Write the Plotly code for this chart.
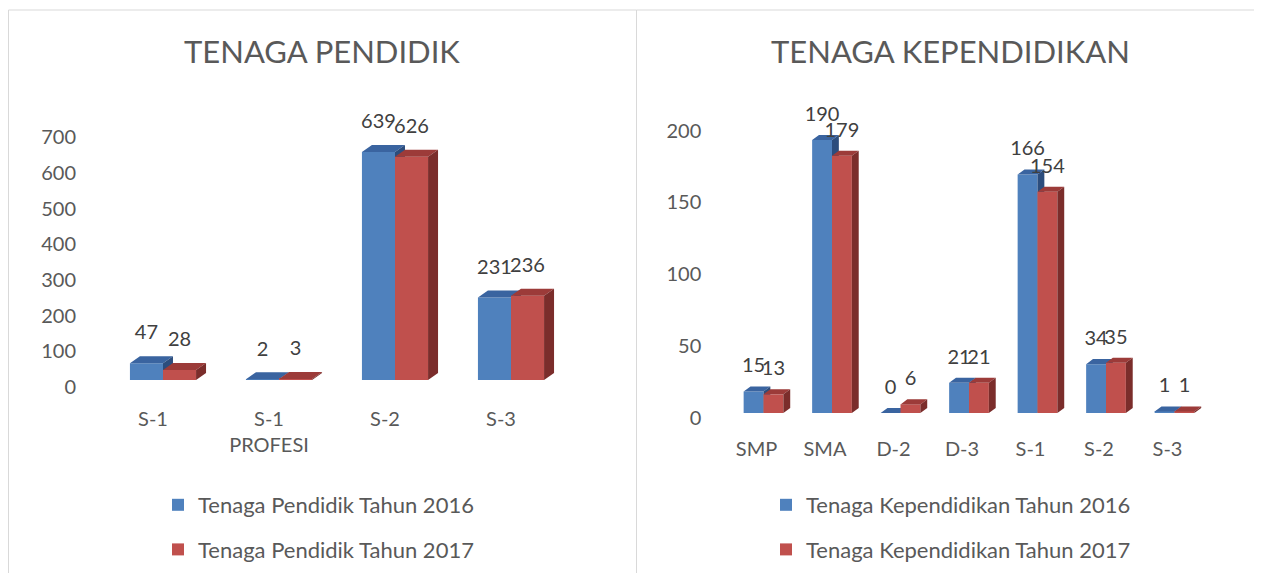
import plotly.graph_objects as go

# ---------------- data ----------------
left_title = "TENAGA PENDIDIK"
left_categories = ["S-1", "S-1<br>PROFESI", "S-2", "S-3"]
left_2016 = [47, 2, 639, 231]
left_2017 = [28, 3, 626, 236]
left_names = ["Tenaga Pendidik Tahun 2016", "Tenaga Pendidik Tahun 2017"]

right_title = "TENAGA KEPENDIDIKAN"
right_categories = ["SMP", "SMA", "D-2", "D-3", "S-1", "S-2", "S-3"]
right_2016 = [15, 190, 0, 21, 166, 34, 1]
right_2017 = [13, 179, 6, 21, 154, 35, 1]
right_names = ["Tenaga Kependidikan Tahun 2016", "Tenaga Kependidikan Tahun 2017"]

# ---------------- style ----------------
PAGE_MARGIN = 8          # default body margin of the html page
W, H = 1262 - 2 * PAGE_MARGIN, 581 - 2 * PAGE_MARGIN
FONT = "Lato"
BLUE = dict(front="#4F81BD", top="#3A64A0", side="#2C4D7D")
RED = dict(front="#C0504D", top="#9C3B39", side="#7B2D2B")
TXT = "#595959"
LBL = "#404040"


def px_x(p):
    return (p - PAGE_MARGIN) / W


def px_y(p):
    return 1 - (p - PAGE_MARGIN) / H


def faces(idx, vals, offset, bw, dx, dy):
    tx, ty, sx, sy = [], [], [], []
    for i, v in zip(idx, vals):
        x0 = i + offset
        x1 = x0 + bw
        tx += [x0, x1, x1 + dx, x0 + dx, x0, None]
        ty += [v, v, v + dy, v + dy, v, None]
        sx += [x1, x1 + dx, x1 + dx, x1, x1, None]
        sy += [0, dy, v + dy, v, 0, None]
    return tx, ty, sx, sy


fig = go.Figure()


def add_panel(cats, v16, v17, names, base, over, bw, dx, dy, lift, legend):
    idx = list(range(len(cats)))
    bx, by = base
    ox, oy = over
    for vals, col, off, name, (xa, ya), grp in [
        (v16, BLUE, -bw, names[0], (bx, by), "a"),
        (v17, RED, 0.0, names[1], (ox, oy), "b"),
    ]:
        fig.add_trace(go.Bar(
            x=idx, y=vals, offset=off, width=bw, name=name,
            marker=dict(color=col["front"], line=dict(width=0)),
            xaxis=xa, yaxis=ya, legend=legend, legendgroup=legend + grp,
            hoverinfo="skip",
        ))
        tx, ty, sx, sy = faces(idx, vals, off, bw, dx, dy)
        fig.add_trace(go.Scatter(
            x=tx, y=ty, fill="toself", fillcolor=col["top"], mode="lines",
            line=dict(width=0, color=col["top"]), showlegend=False,
            xaxis=xa, yaxis=ya, hoverinfo="skip",
        ))
        fig.add_trace(go.Scatter(
            x=sx, y=sy, fill="toself", fillcolor=col["side"], mode="lines",
            line=dict(width=0, color=col["side"]), showlegend=False,
            xaxis=xa, yaxis=ya, hoverinfo="skip",
        ))
    # data labels (on top layer)
    for vals, off in [(v16, -bw / 2), (v17, bw / 2)]:
        fig.add_trace(go.Scatter(
            x=[i + off for i in idx], y=[v + dy + lift for v in vals],
            text=[str(v) for v in vals], mode="text", textposition="top center",
            textfont=dict(family=FONT, size=20, color=LBL), showlegend=False,
            xaxis=ox, yaxis=oy, hoverinfo="skip", cliponaxis=False,
        ))


# 3-D look: bar width, depth in x (category units) and y (data units), label lift
L_BW, L_DX, L_DY, L_LIFT = 0.285, 0.086, 19.6, 33
R_BW, R_DX, R_DY, R_LIFT = 0.29, 0.10, 3.5, 6.3

add_panel(left_categories, left_2016, left_2017, left_names,
          ("x", "y"), ("x3", "y3"), L_BW, L_DX, L_DY, L_LIFT, "legend")
add_panel(right_categories, right_2016, right_2017, right_names,
          ("x2", "y2"), ("x4", "y4"), R_BW, R_DX, R_DY, R_LIFT, "legend2")

tickfont = dict(family=FONT, size=20, color=TXT)
common = dict(showgrid=False, zeroline=False, showline=False, fixedrange=True,
              automargin=False,
              ticks="outside", tickcolor="rgba(0,0,0,0)", tickfont=tickfont)

L_XDOM = [px_x(105), px_x(569)]
L_YDOM = [px_y(380), px_y(116)]
R_XDOM = [px_x(729.25), px_x(1208.75)]
R_YDOM = [px_y(413), px_y(104)]
L_XR = [-0.5, len(left_categories) - 0.5]
L_YR = [0, 740]
R_XR = [-0.5, len(right_categories) - 0.5]
R_YR = [0, 215]

legend_font = dict(family=FONT, size=22, color=TXT)

fig.update_layout(
    width=W, height=H, autosize=False,
    margin=dict(l=0, r=0, t=0, b=0, pad=0, autoexpand=False),
    paper_bgcolor="white", plot_bgcolor="rgba(0,0,0,0)",
    barmode="overlay", showlegend=True,
    xaxis=dict(domain=L_XDOM, range=L_XR, anchor="y",
               tickvals=list(range(len(left_categories))), ticktext=left_categories,
               ticklen=21, ticklabelshift=-10, **common),
    yaxis=dict(domain=L_YDOM, range=L_YR, anchor="x", tick0=0, dtick=100,
               ticklen=24, ticklabelshift=7, **common),
    xaxis3=dict(overlaying="x", range=L_XR, anchor="y3", visible=False, fixedrange=True),
    yaxis3=dict(overlaying="y", range=L_YR, anchor="x3", visible=False, fixedrange=True),
    xaxis2=dict(domain=R_XDOM, range=R_XR, anchor="y2",
                tickvals=list(range(len(right_categories))), ticktext=right_categories,
                ticklen=18, ticklabelshift=-7, **common),
    yaxis2=dict(domain=R_YDOM, range=R_YR, anchor="x2", tick0=0, dtick=50,
                ticklen=23, ticklabelshift=5, **common),
    xaxis4=dict(overlaying="x2", range=R_XR, anchor="y4", visible=False, fixedrange=True),
    yaxis4=dict(overlaying="y2", range=R_YR, anchor="x4", visible=False, fixedrange=True),
    legend=dict(x=px_x(158), y=px_y(484), xanchor="left", yanchor="top",
                font=legend_font, tracegroupgap=13,
                bgcolor="rgba(0,0,0,0)", itemclick=False, itemdoubleclick=False),
    legend2=dict(x=px_x(766), y=px_y(484), xanchor="left", yanchor="top",
                 font=legend_font, tracegroupgap=13,
                 bgcolor="rgba(0,0,0,0)", itemclick=False, itemdoubleclick=False),
    annotations=[
        dict(text=left_title, x=px_x(322), y=px_y(51), xref="paper", yref="paper",
             showarrow=False, xanchor="center", yanchor="middle",
             font=dict(family=FONT, size=31, color=TXT)),
        dict(text=right_title, x=px_x(950), y=px_y(51), xref="paper", yref="paper",
             showarrow=False, xanchor="center", yanchor="middle",
             font=dict(family=FONT, size=31, color=TXT)),
    ],
    shapes=[
        dict(type="rect", xref="paper", yref="paper", x0=px_x(8.5), x1=px_x(636.5),
             y0=-0.05, y1=px_y(10), line=dict(color="#D9D9D9", width=1)),
        dict(type="rect", xref="paper", yref="paper", x0=px_x(636.5), x1=1.05,
             y0=-0.05, y1=px_y(10), line=dict(color="#D9D9D9", width=1)),
    ],
)

fig.write_html("out.html")
